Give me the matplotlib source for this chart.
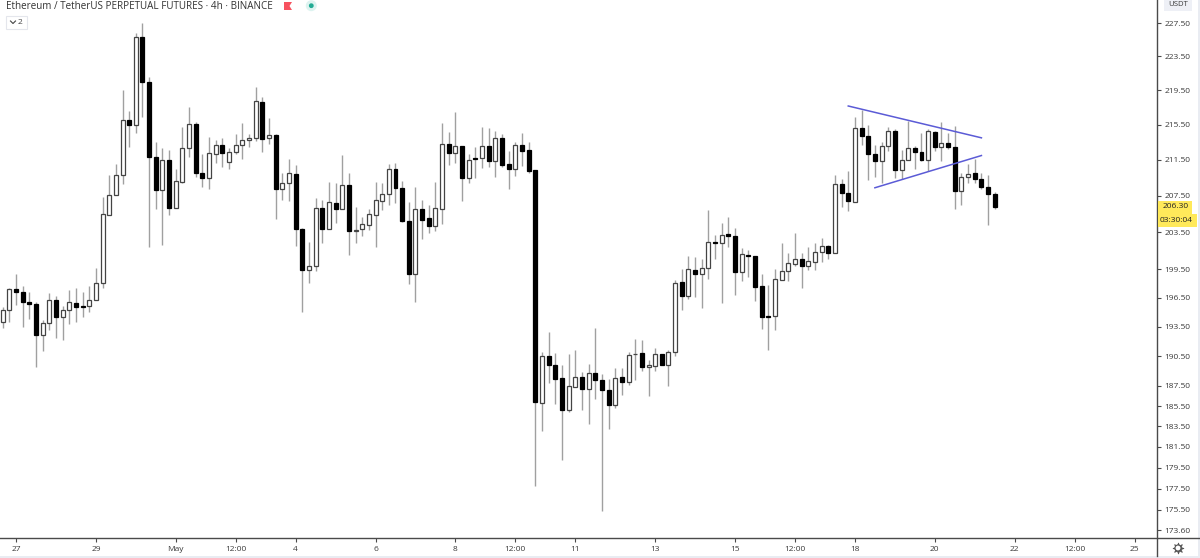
#!/usr/bin/python

import matplotlib
matplotlib.use('Agg')
import matplotlib.pyplot as plt
from matplotlib.patches import Rectangle, Circle, Polygon

# 4h candles, oldest first
opens = [193.97, 195.21, 197.45, 197.10, 196.04, 195.83, 192.66, 193.84, 196.32, 194.53,
         195.28, 195.97, 195.66, 195.63, 196.32, 198.12, 205.41, 207.57, 209.79, 216.04,
         215.50, 225.81, 220.50, 211.82, 208.09, 211.52, 206.17, 209.05, 212.84, 215.54,
         209.98, 209.50, 212.16, 213.17, 211.29, 212.38, 213.21, 213.70, 213.96, 218.12,
         213.93, 214.27, 208.24, 208.94, 209.94, 203.83, 199.46, 199.82, 206.11, 203.80,
         206.72, 206.08, 208.71, 203.58, 203.80, 204.31, 205.33, 206.97, 207.64, 210.43,
         208.31, 204.67, 199.04, 205.99, 205.00, 204.16, 206.08, 213.25, 212.23, 213.10,
         209.46, 211.71, 211.67, 213.02, 211.40, 214.00, 211.06, 210.43, 213.13, 212.57,
         210.35, 185.83, 190.56, 189.57, 188.26, 185.14, 187.40, 188.36, 187.16, 188.83,
         188.10, 187.13, 185.60, 188.36, 187.93, 190.69, 190.79, 189.37, 189.54, 190.73,
         189.64, 190.93, 198.16, 196.71, 199.46, 198.97, 199.67, 202.46, 202.36, 203.29,
         203.07, 199.25, 201.04, 200.92, 197.73, 194.66, 194.63, 198.41, 199.32, 200.10,
         200.57, 199.92, 200.35, 201.36, 202.03, 201.21, 208.75, 207.83, 206.83, 215.12,
         214.20, 212.16, 211.40, 213.06, 214.81, 210.31, 211.52, 212.84, 212.42, 211.52,
         214.65, 213.00, 213.36, 213.00, 207.97, 209.54, 210.02, 209.35, 208.46, 207.72]
highs = [195.56, 197.59, 199.00, 197.73, 197.10, 196.08, 194.18, 197.03, 196.67, 195.70,
         197.31, 197.59, 197.10, 197.73, 199.64, 207.38, 209.83, 211.02, 219.52, 217.12,
         226.25, 227.54, 221.01, 213.56, 212.84, 212.61, 210.53, 215.27, 217.50, 215.81,
         212.16, 214.05, 213.74, 213.93, 212.80, 214.42, 215.65, 214.42, 219.91, 218.66,
         216.23, 214.42, 209.98, 211.55, 210.91, 204.00, 202.46, 207.23, 207.01, 209.05,
         208.86, 212.08, 210.04, 206.28, 205.11, 205.99, 209.05, 208.86, 211.02, 211.17,
         209.16, 206.79, 208.49, 207.01, 206.42, 209.05, 215.65, 214.65, 216.96, 213.10,
         212.16, 212.91, 215.27, 215.08, 214.81, 214.42, 212.54, 213.56, 214.50, 213.56,
         210.35, 190.93, 192.97, 190.83, 189.57, 190.69, 191.10, 188.90, 189.74, 193.35,
         188.73, 188.16, 189.33, 189.33, 190.93, 192.29, 192.11, 190.15, 191.31, 190.76,
         191.10, 198.37, 199.50, 200.92, 200.78, 200.57, 205.91, 203.18, 204.46, 205.11,
         203.94, 201.75, 201.57, 200.92, 199.00, 197.83, 199.60, 202.36, 201.21, 203.47,
         201.21, 201.86, 202.36, 202.89, 202.07, 209.79, 209.31, 210.20, 216.35, 217.19,
         215.42, 213.17, 213.56, 215.27, 214.96, 212.61, 215.96, 213.06, 214.50, 214.96,
         214.81, 215.85, 214.50, 215.35, 209.98, 211.02, 211.63, 209.98, 209.76, 207.90]
lows = [193.42, 194.04, 195.73, 193.49, 194.32, 189.40, 191.03, 193.15, 192.39, 192.19,
        193.77, 194.04, 194.53, 195.08, 196.32, 197.52, 205.41, 207.57, 208.79, 213.00,
        214.50, 216.43, 201.86, 205.99, 202.11, 205.33, 206.17, 208.94, 211.78, 209.61,
        208.42, 208.20, 211.10, 210.65, 210.50, 212.16, 211.63, 212.91, 213.59, 212.42,
        213.29, 204.93, 207.01, 206.94, 201.99, 195.00, 198.09, 199.32, 202.36, 203.80,
        204.46, 206.08, 201.07, 202.36, 203.07, 203.73, 201.92, 205.91, 206.42, 206.72,
        204.60, 197.94, 196.11, 202.82, 203.43, 203.65, 204.38, 210.95, 211.17, 206.94,
        208.94, 209.42, 210.58, 210.65, 209.54, 210.65, 208.27, 209.68, 210.80, 209.98,
        177.73, 183.05, 187.83, 185.67, 180.21, 184.92, 187.40, 185.14, 183.70, 186.23,
        175.39, 183.25, 185.34, 186.56, 187.56, 188.10, 189.00, 186.46, 189.00, 189.64,
        187.53, 190.49, 195.21, 196.43, 196.60, 195.46, 198.44, 200.57, 195.97, 201.86,
        196.78, 198.23, 198.65, 196.15, 193.22, 191.10, 193.15, 198.41, 198.30, 199.85,
        197.52, 199.43, 199.43, 200.28, 200.64, 201.21, 206.28, 205.84, 206.83, 213.17,
        209.24, 209.61, 208.86, 212.54, 209.46, 209.31, 211.48, 210.43, 211.40, 210.20,
        212.46, 211.33, 212.69, 205.99, 206.50, 208.94, 208.86, 208.27, 204.24, 206.08]
closes = [195.21, 197.45, 197.10, 196.11, 195.83, 192.66, 193.84, 196.32, 194.53, 195.28,
          196.04, 195.56, 195.56, 196.25, 198.12, 205.44, 207.60, 209.83, 216.04, 215.50,
          225.81, 220.46, 211.78, 208.09, 211.44, 206.17, 209.09, 212.87, 215.54, 209.98,
          209.50, 212.23, 213.17, 212.31, 212.42, 213.21, 213.70, 214.00, 218.20, 213.89,
          214.27, 208.24, 208.94, 209.98, 203.80, 199.43, 199.82, 206.11, 203.80, 206.75,
          206.08, 208.71, 203.58, 203.76, 204.34, 205.44, 207.01, 207.68, 210.43, 208.31,
          204.67, 199.04, 205.99, 204.85, 204.16, 206.11, 213.25, 212.23, 213.10, 209.46,
          211.52, 211.55, 213.02, 211.40, 214.00, 210.95, 210.43, 213.17, 212.46, 210.28,
          185.86, 190.56, 189.57, 188.23, 185.14, 187.46, 188.40, 187.20, 188.83, 188.10,
          187.06, 185.60, 188.33, 187.90, 190.66, 190.76, 189.40, 189.60, 190.73, 189.64,
          190.96, 198.05, 196.71, 199.53, 199.00, 199.71, 202.46, 202.36, 203.25, 203.14,
          199.25, 201.11, 200.89, 197.69, 194.53, 194.53, 198.44, 199.35, 200.14, 200.60,
          199.92, 200.42, 201.39, 202.03, 201.21, 208.75, 207.83, 206.90, 215.12, 214.20,
          212.16, 211.40, 213.10, 214.81, 210.31, 211.52, 212.87, 212.38, 211.48, 214.73,
          213.00, 213.36, 213.00, 208.01, 209.61, 209.94, 209.35, 208.46, 207.72, 206.26]

# the two hand drawn lines of the triangle
upper_x = [127, 147]
upper_y = [217.66, 214.00]
lower_x = [131, 147]
lower_y = [208.38, 211.99]

y_ticks = [227.5, 223.5, 219.5, 215.5, 211.5, 207.5, 203.5, 199.5, 196.5, 193.5,
           190.5, 187.5, 185.5, 183.5, 181.5, 179.5, 177.5, 175.5, 173.6]
x_ticks = [2, 14, 26, 35, 44, 56, 68, 77, 86, 98, 110, 119, 128, 140, 152, 161, 170]
x_labels = ['27', '29', 'May', '12:00', '4', '6', '8', '12:00', '11', '13', '15',
            '12:00', '18', '20', '22', '12:00', '25']

title = 'Ethereum / TetherUS PERPETUAL FUTURES \u00b7 4h \u00b7 BINANCE'
last_price = '206.30'
countdown = '03:30:04'

W, H = 1200, 558
fs = 6.0
txt = '#3a3a3a'
axis_col = '#4a4a4a'
plt.rcParams['font.family'] = ['Open Sans', 'DejaVu Sans']

fig = plt.figure(figsize=(W / 100, H / 100), dpi=100)
ax = fig.add_axes([0, 1 - 538 / H, 1157 / W, 538 / H])
ax.set_yscale('log')
ax.set_xlim(-0.40, 173.37)
ax.set_ylim(172.9, 230.31)

for i in range(len(opens)):
    up = closes[i] >= opens[i]
    ax.plot([i, i], [lows[i], highs[i]], color='#a0a0a0', lw=1.0, zorder=2, solid_capstyle='butt')
    top = max(opens[i], closes[i])
    bot = min(opens[i], closes[i])
    ax.bar(i, top - bot, bottom=bot, width=0.6, zorder=3,
           facecolor='white' if up else 'black',
           edgecolor='#444444' if up else 'black', linewidth=0.9)

ax.plot(upper_x, upper_y, color='#5b5bd6', lw=1.1, zorder=4)
ax.plot(lower_x, lower_y, color='#5b5bd6', lw=1.1, zorder=4)

ax.spines['top'].set_visible(False)
ax.spines['left'].set_visible(False)
ax.spines['right'].set_visible(False)
ax.spines['bottom'].set_visible(False)

ax.yaxis.tick_right()
ax.set_yticks(y_ticks)
ax.set_yticklabels(['%.2f' % v for v in y_ticks])
ax.minorticks_off()
ax.tick_params(axis='y', length=3, width=0.8, color=axis_col, labelsize=fs, labelcolor=txt, pad=2.5)
ax.set_xticks(x_ticks)
ax.set_xticklabels(x_labels)
ax.tick_params(axis='x', length=3, width=0.8, color=axis_col, labelsize=fs, labelcolor=txt, pad=3)

# everything outside the plot is placed in pixels
ov = fig.add_axes([0, 0, 1, 1], facecolor='none')
ov.set_xlim(0, W)
ov.set_ylim(H, 0)
ov.axis('off')

# axis lines run on through the corner of the screenshot
ov.plot([1157, 1157], [0, 556], color=axis_col, lw=1.0, zorder=2)
ov.plot([0, W], [538, 538], color=axis_col, lw=1.0, zorder=2)

ov.text(6, 6.5, title, fontsize=7.15, color='#333333', va='center', ha='left')
ov.add_patch(Polygon([(284, 2), (292, 2), (289.5, 6), (292, 10), (284, 10)], facecolor='#f7525f', edgecolor='none'))
ov.add_patch(Circle((311.3, 5.7), 5.5, facecolor='#ddf3f0', edgecolor='none'))
ov.add_patch(Circle((311.3, 5.7), 2.4, facecolor='#22ab94', edgecolor='none'))

ov.add_patch(Rectangle((5.5, 15.5), 21, 13, facecolor='white', edgecolor='#e4e6ec', lw=0.8))
ov.plot([10.5, 13, 15.5], [21, 23.5, 21], color='#444444', lw=0.8)
ov.text(20.5, 22, '2', fontsize=6, color='#444444', va='center', ha='center')

ov.add_patch(Rectangle((1164, 0), 28, 11, facecolor='#eef0f6', edgecolor='none'))
ov.text(1178, 5, 'USDT', fontsize=5.6, color=txt, va='center', ha='center')

ov.add_patch(Rectangle((1157.5, 200.5), 34.5, 13.5, facecolor='#ffe95a', edgecolor='none', zorder=3))
ov.add_patch(Rectangle((1157.5, 214), 39.5, 12.5, facecolor='#ffe95a', edgecolor='none', zorder=3))
ov.text(1163, 207, last_price, fontsize=fs, color='#222222', va='center', ha='left', zorder=4)
ov.text(1160, 220.3, countdown, fontsize=fs, color='#222222', va='center', ha='left', zorder=4)

# grey frame strip at the right and bottom edge of the screenshot
ov.add_patch(Rectangle((1198, 0), 2, H, facecolor='#e9ecf2', edgecolor='none'))
ov.add_patch(Rectangle((0, 556), W, 2, facecolor='#e9ecf2', edgecolor='none'))

# settings gear
ov.plot([1178], [548], marker=(8, 1, 0), ms=8, mfc='#555555', mec='#555555', mew=0.5)
ov.add_patch(Circle((1178, 548), 3.0, facecolor='white', edgecolor='#555555', lw=0.8, zorder=5))

fig.savefig('out.png', dpi=100)
